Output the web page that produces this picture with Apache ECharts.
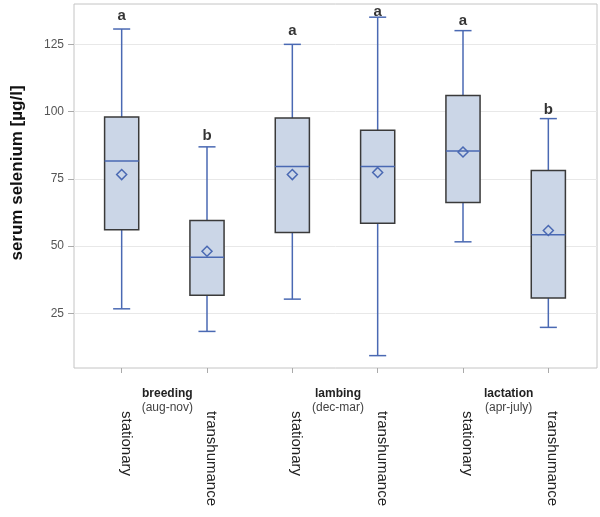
<!DOCTYPE html>
<html><head><meta charset="utf-8">
<script src="https://cdn.jsdelivr.net/npm/echarts@6/dist/echarts.min.js"></script>
<style>html,body{margin:0;padding:0;background:#fff}#c{width:600px;height:517px}</style>
</head><body><div id="c"></div>
<script>
const categories = ['stationary','transhumance','stationary','transhumance','stationary','transhumance'];
const groups = ['breeding','lambing','lactation'];
const periods = ['(aug-nov)','(dec-mar)','(apr-july)'];
const whiskerLow = [26.7, 18.3, 30.3, 9.3, 51.6, 19.8];
const q1 = [56.1, 31.7, 55.1, 58.5, 66.2, 30.7];
const median = [81.6, 45.9, 79.6, 79.6, 85.4, 54.2];
const q3 = [98.0, 59.5, 97.6, 93.1, 106.0, 78.1];
const whiskerHigh = [130.7, 86.9, 125.0, 135.1, 130.1, 97.4];
const mean = [76.6, 48.1, 76.6, 77.4, 85.0, 55.8];
const letters = ['a','b','a','a','a','b'];
const letterY = [135.6, 90.9, 129.9, 137.1, 133.6, 100.8];
const yTicks = [25, 50, 75, 100, 125];

const BLUE = '#4a69b3';
const boxData = categories.map((c, i) => [i, whiskerLow[i], q1[i], median[i], q3[i], whiskerHigh[i], mean[i]]);
const letterData = categories.map((c, i) => [i, letterY[i]]);

const chart = echarts.init(document.getElementById('c'), null, {renderer: 'canvas'});
const font = 'Liberation Sans, Arial, sans-serif';
chart.setOption({
  animation: false,
  grid: [
    {left: 74, right: 3, top: 4, bottom: 149, show: true, borderColor: '#c4c4c4', borderWidth: 1, backgroundColor: '#fff'},
    {left: 79, right: 9, top: 4, bottom: 149}
  ],
  xAxis: [
    {gridIndex: 0, type: 'value', show: false, min: 0, max: 1},
    {gridIndex: 1, type: 'category', data: categories,
      axisLine: {show: false},
      axisTick: {show: true, alignWithLabel: true, length: 5, lineStyle: {color: '#aaaaaa'}},
      axisLabel: {rotate: -90, margin: 43, color: '#222', fontSize: 15, fontFamily: font,
        verticalAlign: 'bottom', lineHeight: 8}},
    {gridIndex: 1, type: 'category', data: groups, position: 'bottom',
      axisLine: {show: false}, axisTick: {show: false},
      axisLabel: {margin: 19, interval: 0, padding: [0, 0, 0, 6],
        formatter: (v, i) => '{g|' + v + '}\n{p|' + periods[i] + '}',
        rich: {
          g: {fontFamily: font, fontWeight: 'bold', fontSize: 12, color: '#222', lineHeight: 14, align: 'center'},
          p: {fontFamily: font, fontSize: 12, color: '#444', lineHeight: 14, align: 'center'}
        }}}
  ],
  yAxis: [
    {gridIndex: 0, type: 'value', min: 4.7, max: 140,
      name: 'serum selenium [µg/l]', nameLocation: 'middle', nameGap: 48,
      nameTextStyle: {fontFamily: font, fontWeight: 'bold', fontSize: 17, color: '#111', padding: [0, 0, 0, 26]},
      axisLine: {show: false},
      axisTick: {show: true, length: 6, customValues: yTicks, lineStyle: {color: '#aaaaaa'}},
      axisLabel: {customValues: yTicks, margin: 10, color: '#555', fontSize: 12, fontFamily: font},
      splitLine: {show: true, lineStyle: {color: '#e8e8e8', width: 1}}},
    {gridIndex: 1, type: 'value', min: 4.7, max: 140, show: false, splitLine: {show: false}}
  ],
  series: [
    {
      type: 'custom', xAxisIndex: 1, yAxisIndex: 1, data: boxData,
      encode: {x: 0, y: [1, 5]},
      renderItem: function (params, api) {
        const i = api.value(0);
        const band = api.size([1, 0])[0];
        const bw = band * 0.4, cw = band * 0.2;
        const pLow = api.coord([i, api.value(1)]);
        const pQ1 = api.coord([i, api.value(2)]);
        const pMed = api.coord([i, api.value(3)]);
        const pQ3 = api.coord([i, api.value(4)]);
        const pHigh = api.coord([i, api.value(5)]);
        const pMean = api.coord([i, api.value(6)]);
        const x = pMed[0];
        const ls = {stroke: BLUE, lineWidth: 1.5};
        const d = 5;
        return {type: 'group', children: [
          {type: 'line', shape: {x1: x, y1: pHigh[1], x2: x, y2: pQ3[1]}, style: ls},
          {type: 'line', shape: {x1: x, y1: pQ1[1], x2: x, y2: pLow[1]}, style: ls},
          {type: 'line', shape: {x1: x - cw / 2, y1: pHigh[1], x2: x + cw / 2, y2: pHigh[1]}, style: ls},
          {type: 'line', shape: {x1: x - cw / 2, y1: pLow[1], x2: x + cw / 2, y2: pLow[1]}, style: ls},
          {type: 'rect', shape: {x: x - bw / 2, y: pQ3[1], width: bw, height: pQ1[1] - pQ3[1]},
            style: {fill: '#cbd6e7', stroke: '#3a3a3a', lineWidth: 1.5}},
          {type: 'line', shape: {x1: x - bw / 2, y1: pMed[1], x2: x + bw / 2, y2: pMed[1]}, style: ls},
          {type: 'polygon', shape: {points: [[x, pMean[1] - d], [x + d, pMean[1]], [x, pMean[1] + d], [x - d, pMean[1]]]},
            style: {fill: 'none', stroke: BLUE, lineWidth: 1.5}}
        ]};
      }
    },
    {
      type: 'scatter', xAxisIndex: 1, yAxisIndex: 1, data: letterData, symbolSize: 0, z: 5,
      label: {show: true, position: 'inside', formatter: p => letters[p.dataIndex],
        fontFamily: font, fontWeight: 'bold', fontSize: 15, color: '#000'}
    }
  ]
});
</script></body></html>
